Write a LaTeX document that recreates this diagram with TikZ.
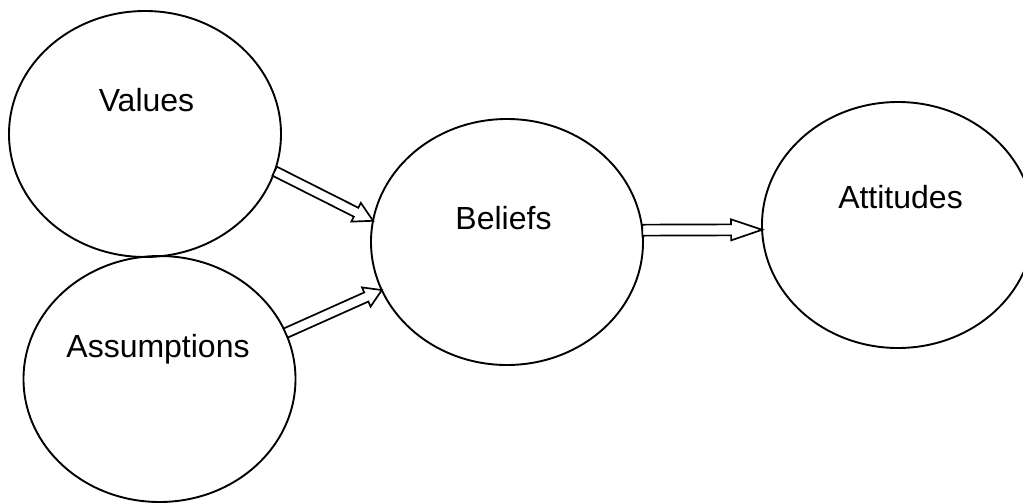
\documentclass[tikz,border=0pt]{standalone}
\usepackage{fontspec}
\setmainfont{Liberation Sans}
\usetikzlibrary{shapes.geometric,calc}
\tikzset{
  bubble/.style={ellipse, draw=black, line width=1.9pt, minimum width=272pt, minimum height=246pt, inner sep=0pt, outer sep=0pt},
  lbl/.style={anchor=base, inner sep=0pt, font=\fontsize{32}{38}\selectfont},
  blockline/.style={draw=black, fill=white, line width=1.7pt, line join=miter}
}
\newcommand\blockarrow[5]{%
  \coordinate (hb) at ($(#2)!#5!(#1)$);
  \draw[blockline] ($(#1)!#3!90:(#2)$) -- ($(hb)!#3!-90:(#1)$) -- ($(hb)!#4!-90:(#1)$) -- (#2)
     -- ($(hb)!#4!90:(#1)$) -- ($(hb)!#3!90:(#1)$) -- ($(#1)!#3!-90:(#2)$) -- cycle;
}
\begin{document}
\begin{tikzpicture}[x=1pt,y=-1pt]
\useasboundingbox (0,0) rectangle (1023,503);
\clip (0,0) rectangle (1023,503);
\node[bubble] (val) at (145,134) {};
\node[bubble] (ass) at (159.5,379) {};
\node[bubble] (bel) at (507,242) {};
\node[bubble] (att) at (898,225) {};
\node[lbl] (valt) at (146.5,111) {Values};
\node[lbl] (asst) at (158,357) {Assumptions};
\node[lbl] (belt) at (503.5,229) {Beliefs};
\node[lbl] (attt) at (900.5,208) {Attitudes};
\blockarrow{val.-16.6}{bel.171.5}{5pt}{10.5pt}{19pt}
\blockarrow{ass.20.4}{bel.201.2}{5pt}{10.5pt}{17pt}
\blockarrow{bel.5}{att.182.5}{5.5pt}{10.5pt}{31pt}
\end{tikzpicture}
\end{document}
